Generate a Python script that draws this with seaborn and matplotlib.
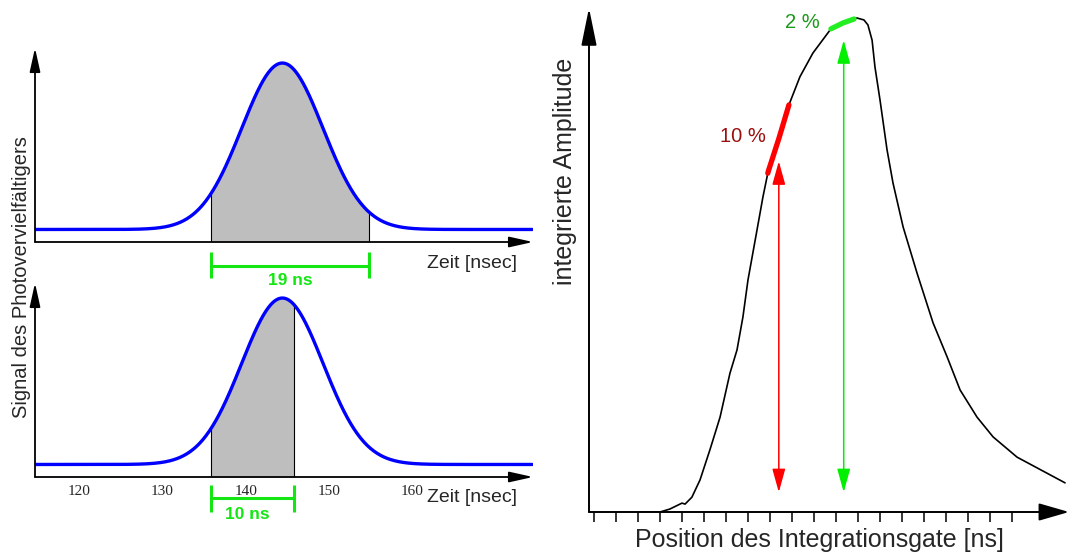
import numpy as np
import pandas as pd
import matplotlib
matplotlib.use("Agg")
import matplotlib.pyplot as plt
import seaborn as sns

# ---- photomultiplier pulse (ideal Gaussian model) ----
t_range = (114.66, 174.45)      # ns
pulse_center = 144.4            # ns
pulse_sigma = 4.9               # ns
pulse_base = 0.07
pulse_amp = 0.93

gate_start = 135.8              # ns
gate_widths = [19, 10]          # ns, upper / lower panel
gate_labels = ["19 ns", "10 ns"]
time_ticks = [120, 130, 140, 150, 160]

# ---- integrated amplitude vs. gate position ----
gate_pos = [2.1, 3.0, 3.45, 4.0, 4.14, 4.45, 4.82, 5.27, 5.73, 6.18, 6.5,
            6.77, 7.0, 7.41, 7.68, 7.91, 8.41, 8.86, 9.36, 9.95, 10.77,
            11.32, 11.95, 12.27, 12.45, 12.64, 12.77, 13.0, 13.32, 13.59,
            14.05, 14.68, 15.41, 16.05, 16.64, 17.41, 18.14, 19.23, 21.41]
amplitude = [0.0, 0.0, 0.006, 0.018, 0.016, 0.03, 0.065, 0.126, 0.192,
             0.281, 0.328, 0.395, 0.47, 0.571, 0.638, 0.688, 0.757, 0.824,
             0.881, 0.929, 0.978, 0.99, 1.0, 0.996, 0.986, 0.955, 0.901,
             0.834, 0.733, 0.666, 0.577, 0.484, 0.383, 0.314, 0.247, 0.192,
             0.152, 0.111, 0.059]
gate_ticks = list(range(20))

window_10 = (7.9, 8.86)     # slope region, 10 % variation
window_2 = (10.77, 11.82)   # plateau region, 2 % variation
arrow_10 = (8.4, 0.04, 0.71)
arrow_2 = (11.35, 0.04, 0.955)

sns.set_style("white")
plt.rcParams["font.family"] = ["Liberation Sans", "DejaVu Sans"]

W, H = 1069, 556
fig = plt.figure(figsize=(W / 100, H / 100), dpi=100)


def frame(px_left, px_top, px_right, px_bottom):
    return [px_left / W, 1 - px_bottom / H, (px_right - px_left) / W,
            (px_bottom - px_top) / H]


def axis_arrows(ax, hx, hy, lw=1.3):
    for end, (hl, hw) in [((1, 0), hx), ((0, 1), hy)]:
        ax.annotate("", xy=end, xytext=(0, 0), xycoords="axes fraction",
                    textcoords="axes fraction",
                    arrowprops=dict(arrowstyle=f"-|>,head_length={hl},head_width={hw}",
                                    mutation_scale=10, color="black", lw=lw,
                                    shrinkA=0, shrinkB=0))


def pulse(t):
    t = np.asarray(t, dtype=float)
    return pulse_base + pulse_amp * np.exp(-0.5 * ((t - pulse_center) / pulse_sigma) ** 2)


green = "#14e614"
t = np.linspace(t_range[0], t_range[1], 600)
df_pulse = pd.DataFrame({"Zeit": t, "Signal": pulse(t)})

ax_top = fig.add_axes(frame(35, 48, 533, 242))
ax_bot = fig.add_axes(frame(35, 283, 533, 477))
# bracket y, bracket tick span, label y, label x shift, "Zeit" label y (axes fraction)
layout = [(-0.134, -0.056, -0.201, -0.215, 0.0, -21 / 194),
          (-0.117, -0.045, -0.196, -0.207, -0.6, -20 / 194)]

for ax, width, label, (yb, y1, y2, yt, dx, yz) in zip(
        [ax_top, ax_bot], gate_widths, gate_labels, layout):
    ax.patch.set_alpha(0)
    g0, g1 = gate_start, gate_start + width
    tg = np.linspace(g0, g1, 200)
    ax.fill_between(tg, 0, pulse(tg), color="#bebebe", lw=0, zorder=1)
    ax.vlines([g0, g1], 0, [pulse(g0), pulse(g1)], color="black", lw=0.8, zorder=2)
    sns.lineplot(data=df_pulse, x="Zeit", y="Signal", ax=ax, color="#0000ff",
                 lw=2.4, zorder=3)
    ax.set_xlim(t_range[0], 174.53)
    ax.set_ylim(0, 1.084)
    for s in ax.spines.values():
        s.set_visible(False)
    ax.set_xlabel("")
    ax.set_ylabel("")
    ax.set_yticks([])
    axis_arrows(ax, (1.44, 0.32), (1.44, 0.32))

    # gate width bracket
    ax.plot([g0, g1], [yb, yb], color=green, lw=2.2, clip_on=False,
            solid_capstyle="butt")
    ax.vlines([g0, g1], y2, y1, color=green, lw=2.2, clip_on=False)
    ax.text((g0 + g1) / 2 + dx, yt, label, color=green, fontsize=12.5,
            fontweight="bold", ha="center", va="center", clip_on=False)
    ax.text(1 - 16 / 498, yz, "Zeit [nsec]", transform=ax.transAxes,
            fontsize=14, ha="right", va="center")

ax_top.set_xticks([])
ax_bot.set_xticks(time_ticks)
ax_bot.set_xticklabels([str(v) for v in time_ticks], family="Liberation Serif",
                       fontsize=11)
ax_bot.tick_params(axis="x", length=0, pad=6)

fig.text(22 / W, 1 - 277 / H, "Signal des Photovervielfältigers", rotation=90,
         fontsize=14.5, ha="center", va="center")

# ---- right panel ----
ax_r = fig.add_axes(frame(589, 8, 1069, 512))
ax_r.patch.set_alpha(0)
df_gate = pd.DataFrame({"Position": gate_pos, "Amplitude": amplitude})
sns.lineplot(data=df_gate, x="Position", y="Amplitude", ax=ax_r, color="black",
             lw=1.2, sort=False, zorder=3)
ax_r.set_xlim(-0.227, 21.59)
ax_r.set_ylim(0, 1.0202)
for s in ax_r.spines.values():
    s.set_visible(False)
ax_r.set_xlabel("")
ax_r.set_ylabel("")
ax_r.set_yticks([])
ax_r.set_xticks(gate_ticks)
ax_r.set_xticklabels([])
ax_r.tick_params(axis="x", bottom=True, direction="out", length=7.2, width=1.1,
                 color="black")
axis_arrows(ax_r, (1.87, 0.54), (2.3, 0.47), lw=1.4)

for (w0, w1), col in [(window_10, "#ff0000"), (window_2, "#22ee22")]:
    xs = np.linspace(w0, w1, 30)
    ax_r.plot(xs, np.interp(xs, gate_pos, amplitude), color=col, lw=3.8,
              solid_capstyle="round", zorder=4)

for (x, y0, y1), col in [(arrow_10, "#ff0000"), (arrow_2, "#00f000")]:
    ax_r.annotate("", xy=(x, y1), xytext=(x, y0),
                  arrowprops=dict(arrowstyle="<|-|>,head_length=1.44,head_width=0.4",
                                  mutation_scale=10, color=col, lw=1.1,
                                  shrinkA=0, shrinkB=0))

ax_r.text(window_10[0] - 1.15, 0.76, "10 %", color="#9a1010", fontsize=14.5,
          ha="center", va="center")
ax_r.text(window_2[0] - 1.3, 0.99, "2 %", color="#1a9a1a", fontsize=14.5,
          ha="center", va="center")

fig.text(565 / W, 1 - 171 / H, "integrierte Amplitude", rotation=90, fontsize=18,
         ha="center", va="center")
fig.text(819 / W, 1 - 540 / H, "Position des Integrationsgate [ns]", fontsize=18,
         ha="center", va="center")

fig.savefig("out.png", dpi=100)
